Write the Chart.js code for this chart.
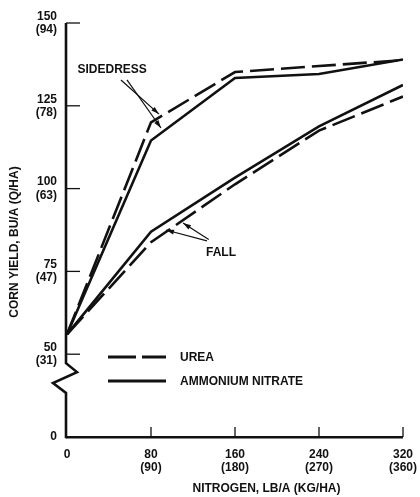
<!DOCTYPE html>
<html>
<head>
<meta charset="utf-8">
<script src="https://cdn.jsdelivr.net/npm/chart.js@4.4.1/dist/chart.umd.min.js"></script>
<style>
  body { margin: 0; background: #fff; }
  #wrap { width: 420px; height: 497px; }
</style>
</head>
<body>
<div id="wrap"><canvas id="yieldChart" width="420" height="497"></canvas></div>
<script>
// nitrogen rates, lb/a
const nRates = [0, 80, 160, 240, 320];

// corn yield, bu/a
const sidedressUrea = [56, 120, 135.2, 137, 138.8];
const sidedressAN   = [56, 114.5, 133.4, 134.6, 139];
const fallUrea      = [56, 83.8, 101.3, 117.5, 127.8];
const fallAN        = [56, 87, 103.3, 118.8, 131.3];

// tick labels (axis is broken between 0 and 50, so "0" sits one step below 50)
const xTicks = [0, 80, 160, 240, 320];
const xTickMetric = ['', '(90)', '(180)', '(270)', '(360)'];
const yTicks = [25, 50, 75, 100, 125, 150];
const yTickLabels = ['0', '50', '75', '100', '125', '150'];
const yTickMetric = ['', '(31)', '(47)', '(63)', '(78)', '(94)'];

const legendLabels = ['UREA', 'AMMONIUM NITRATE'];
const xTitle = 'NITROGEN, LB/A (KG/HA)';
const yTitle = 'CORN YIELD, BU/A (Q/HA)';

const FONT = 'bold 12px "Liberation Sans", Arial, sans-serif';
const DASH = [24, 7];

function toXY(arr) {
    return nRates.map((n, i) => ({ x: n, y: arr[i] }));
}

function makeSet(label, arr, dashed) {
    return {
        label, data: toXY(arr),
        borderColor: '#111', borderWidth: 2.6,
        borderDash: dashed ? DASH : [],
        pointRadius: 0, tension: 0, fill: false
    };
}

// labels and arrows, in data units
const notes = [
    { text: 'SIDEDRESS', x: 43, y: 135.8,
      arrows: [[51.4, 132.8, 87.6, 122.5], [57.1, 132.8, 89.5, 118.3]] },
    { text: 'FALL', x: 146.7, y: 80.6,
      arrows: [[133.3, 84.2, 94.3, 87.5], [135, 84.6, 110.5, 89.6]] }
];

function arrow(ctx, x1, y1, x2, y2) {
    ctx.beginPath();
    ctx.moveTo(x1, y1);
    ctx.lineTo(x2, y2);
    ctx.stroke();
    const a = Math.atan2(y2 - y1, x2 - x1);
    ctx.beginPath();
    ctx.moveTo(x2, y2);
    ctx.lineTo(x2 - 8 * Math.cos(a) + 2.5 * Math.sin(a), y2 - 8 * Math.sin(a) - 2.5 * Math.cos(a));
    ctx.lineTo(x2 - 8 * Math.cos(a) - 2.5 * Math.sin(a), y2 - 8 * Math.sin(a) + 2.5 * Math.cos(a));
    ctx.closePath();
    ctx.fill();
}

const decor = {
    id: 'decor',
    afterDraw(chart) {
        const { ctx, chartArea: ca, scales: { x, y } } = chart;
        ctx.save();
        ctx.strokeStyle = '#111';
        ctx.fillStyle = '#111';
        ctx.lineCap = 'butt';

        // y axis with break
        const x0 = ca.left - 1;
        ctx.lineWidth = 2.6;
        ctx.beginPath();
        ctx.moveTo(x0, ca.top);
        ctx.lineTo(x0, y.getPixelForValue(47.3));
        ctx.lineTo(x0 + 11, y.getPixelForValue(44.6));
        ctx.lineTo(x0 - 13, y.getPixelForValue(41.3));
        ctx.lineTo(x0, y.getPixelForValue(38.3));
        ctx.lineTo(x0, ca.bottom + 1.3);
        ctx.stroke();

        // inside ticks
        ctx.lineWidth = 1.3;
        yTicks.slice(1).forEach(v => {
            const py = y.getPixelForValue(v);
            ctx.beginPath(); ctx.moveTo(x0, py); ctx.lineTo(x0 + 14, py); ctx.stroke();
        });
        xTicks.slice(1).forEach(v => {
            const px = x.getPixelForValue(v);
            ctx.beginPath(); ctx.moveTo(px, ca.bottom); ctx.lineTo(px, ca.bottom - 10); ctx.stroke();
        });

        // legend
        ctx.font = FONT;
        ctx.textBaseline = 'middle';
        ctx.textAlign = 'left';
        [[0, 357, [28, 6]], [1, 381, []]].forEach(([i, ly, dash]) => {
            ctx.lineWidth = 2.8;
            ctx.setLineDash(dash);
            ctx.beginPath(); ctx.moveTo(108, ly); ctx.lineTo(166, ly); ctx.stroke();
            ctx.setLineDash([]);
            ctx.fillText(legendLabels[i], 180, ly + 1);
        });

        // notes
        ctx.lineWidth = 1.2;
        notes.forEach(n => {
            ctx.textAlign = 'center';
            ctx.fillText(n.text, x.getPixelForValue(n.x), y.getPixelForValue(n.y));
            n.arrows.forEach(a => arrow(ctx,
                x.getPixelForValue(a[0]), y.getPixelForValue(a[1]),
                x.getPixelForValue(a[2]), y.getPixelForValue(a[3])));
        });

        // axis titles
        ctx.textAlign = 'center';
        ctx.fillText(xTitle, x.getPixelForValue(190), ca.bottom + 52);
        ctx.translate(15, (ca.top + ca.bottom) / 2 + 12);
        ctx.rotate(-Math.PI / 2);
        ctx.fillText(yTitle, 0, 0);
        ctx.restore();
    }
};

const tickFont = { family: '"Liberation Sans", Arial, sans-serif', size: 12, weight: 'bold', lineHeight: 1.1 };

new Chart(document.getElementById('yieldChart'), {
    type: 'line',
    data: {
        datasets: [
            makeSet('Sidedress urea', sidedressUrea, true),
            makeSet('Sidedress ammonium nitrate', sidedressAN, false),
            makeSet('Fall urea', fallUrea, true),
            makeSet('Fall ammonium nitrate', fallAN, false)
        ]
    },
    options: {
        responsive: false,
        animation: false,
        layout: { padding: { left: 0, top: 23, right: 17, bottom: 0 } },
        plugins: { legend: { display: false }, tooltip: { enabled: false } },
        scales: {
            x: {
                type: 'linear', min: 0, max: 320,
                afterBuildTicks: s => { s.ticks = xTicks.map(v => ({ value: v })); },
                afterFit: s => { s.height = 60; },
                grid: { display: false },
                border: { display: true, color: '#111', width: 2.6 },
                ticks: {
                    autoSkip: false, maxRotation: 0, padding: 3, color: '#111', font: tickFont,
                    callback: v => {
                        const i = xTicks.indexOf(v);
                        return xTickMetric[i] ? [String(v), xTickMetric[i]] : String(v);
                    }
                }
            },
            y: {
                type: 'linear', min: 25, max: 150,
                afterBuildTicks: s => { s.ticks = yTicks.map(v => ({ value: v })); },
                afterFit: s => { s.width = 67; },
                grid: { display: false },
                border: { display: false },
                ticks: {
                    padding: 2, color: '#111', font: tickFont,
                    callback: v => {
                        const i = yTicks.indexOf(v);
                        return yTickMetric[i] ? [yTickLabels[i], yTickMetric[i]] : yTickLabels[i];
                    }
                }
            }
        }
    },
    plugins: [decor]
});
</script>
</body>
</html>
